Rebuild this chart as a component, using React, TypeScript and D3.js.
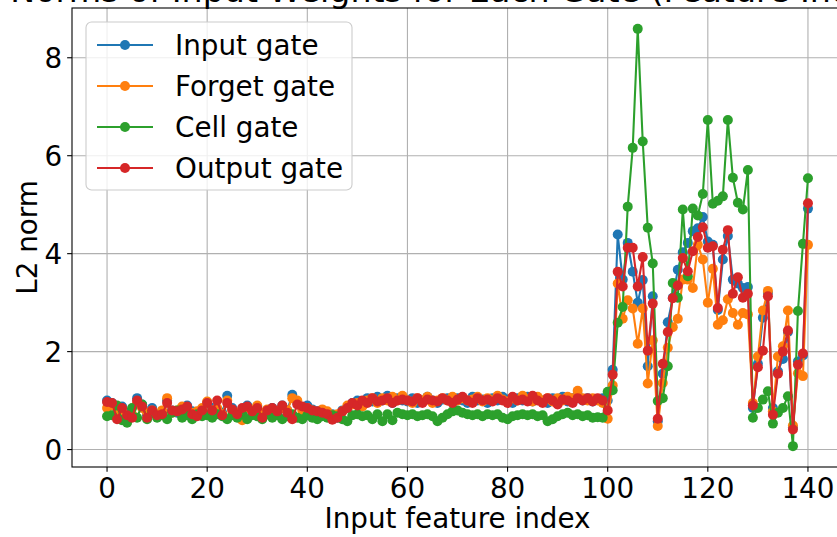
import React from "react";
import * as d3 from "d3";

const W = 837;
const H = 537;

const title = "Norms of Input Weights for Each Gate (Feature Index)";
const xLabel = "Input feature index";
const yLabel = "L2 norm";
const xTicks = [0, 20, 40, 60, 80, 100, 120, 140];
const yTicks = [0, 2, 4, 6, 8];
const seriesNames = ["Input gate", "Forget gate", "Cell gate", "Output gate"];
const seriesColors = ["#1f77b4", "#ff7f0e", "#2ca02c", "#d62728"];

const inputGate = [
  1.0, 0.95, 0.7, 0.88, 0.75, 0.68, 1.05, 0.92, 0.7, 0.85,
  0.72, 0.78, 1.0, 0.8, 0.75, 0.85, 0.9, 0.78, 0.7, 0.82,
  0.95, 0.85, 0.8, 0.75, 1.1, 0.85, 0.7, 0.8, 0.9, 0.75,
  0.88, 0.7, 0.8, 0.85, 0.75, 0.9, 0.8, 1.12, 0.95, 0.85,
  0.9, 0.82, 0.78, 0.8, 0.75, 0.72, 0.65, 0.8, 0.85, 0.95,
  1.0, 0.9, 1.05, 0.98, 1.08, 1.0, 1.1, 0.95, 1.05, 1.0,
  0.98, 1.05, 0.95, 1.0, 1.08, 1.0, 0.95, 1.02, 1.05, 0.98,
  1.05, 1.0, 0.95, 1.08, 1.0, 1.02, 0.95, 1.05, 1.0, 1.08,
  1.02, 0.95, 1.05, 1.0, 1.08, 0.98, 1.05, 1.0, 0.95, 1.05,
  1.0, 1.08, 0.98, 1.05, 1.12, 1.0, 1.05, 0.98, 1.02, 1.05,
  1.0, 1.63, 4.39, 3.47, 4.22, 3.63, 3.0, 3.46, 1.7, 3.13,
  0.58, 1.55, 2.6, 3.1, 3.67, 4.03, 4.22, 4.46, 4.52, 4.75,
  4.25, 4.18, 2.85, 3.88, 4.36, 3.47, 3.39, 3.3, 3.32, 0.85,
  1.75, 2.69, 3.2, 0.85, 1.6, 1.85, 2.4, 0.45, 1.8, 1.92, 4.92,
];

const forgetGate = [
  0.85, 0.9, 0.75, 0.8, 0.65, 0.72, 0.95, 0.85, 0.75, 0.8,
  0.7, 0.8, 1.05, 0.75, 0.8, 0.88, 0.82, 0.75, 0.78, 0.85,
  0.98, 0.8, 0.85, 0.72, 1.0, 0.8, 0.75, 0.6, 0.85, 0.8,
  0.9, 0.75, 0.82, 0.8, 0.78, 0.85, 0.8, 1.05, 1.0, 0.8,
  0.85, 0.8, 0.75, 0.82, 0.78, 0.7, 0.72, 0.78, 0.9, 0.92,
  0.95, 0.88, 1.0, 1.05, 0.95, 1.05, 1.0, 1.08, 1.0, 1.1,
  1.0, 0.95, 1.05, 1.0, 1.08, 0.95, 1.0, 1.05, 1.0, 1.08,
  1.0, 1.05, 1.0, 1.02, 1.08, 0.98, 1.05, 1.0, 1.1, 1.02,
  0.98, 1.05, 1.0, 1.1, 1.02, 0.98, 1.08, 1.0, 1.05, 0.98,
  1.05, 1.0, 1.08, 1.05, 1.2, 1.05, 1.0, 1.05, 1.0, 0.95,
  0.63, 1.31, 3.39, 2.67, 3.05, 2.88, 2.16, 2.88, 1.35, 2.23,
  0.48, 1.36, 2.08, 2.5, 2.67, 3.47, 3.47, 3.3, 4.18, 3.88,
  3.0, 3.69, 2.55, 2.64, 3.07, 2.79, 2.55, 2.79, 2.76, 0.95,
  1.9, 2.84, 3.24, 0.78, 1.9, 2.11, 2.84, 0.49, 1.56, 1.5, 4.18,
];

const cellGate = [
  0.68, 0.7, 0.9, 0.6, 0.55, 0.85, 0.65, 0.92, 0.62, 0.75,
  0.65, 0.7, 0.62, 0.75, 0.8, 0.65, 0.7, 0.62, 0.72, 0.68,
  0.7, 0.65, 0.72, 0.68, 0.62, 0.7, 0.65, 0.72, 0.62, 0.7,
  0.68, 0.62, 0.72, 0.65, 0.7, 0.62, 0.68, 0.72, 0.65, 0.62,
  0.7, 0.65, 0.62, 0.68, 0.65, 0.7, 0.68, 0.62, 0.58, 0.7,
  0.72, 0.68, 0.7, 0.62, 0.72, 0.58, 0.72, 0.6, 0.75, 0.72,
  0.7, 0.72, 0.68, 0.7, 0.72, 0.68, 0.58, 0.65, 0.72, 0.78,
  0.8, 0.75, 0.72, 0.7, 0.72, 0.68, 0.72, 0.7, 0.72, 0.65,
  0.62, 0.68, 0.7, 0.72, 0.7, 0.72, 0.68, 0.7, 0.58, 0.62,
  0.68, 0.72, 0.75, 0.7, 0.72, 0.68, 0.7, 0.65, 0.66, 0.65,
  1.18, 1.21, 2.59, 2.91, 4.96, 6.16, 8.59, 6.29, 4.53, 3.8,
  0.99, 1.05, 1.7, 3.4, 3.1, 4.9, 3.54, 4.92, 4.78, 5.22,
  6.73, 5.02, 5.08, 5.17, 6.73, 5.55, 5.04, 4.9, 5.71, 0.65,
  0.85, 1.02, 1.19, 0.53, 0.75, 0.85, 1.09, 0.07, 2.83, 4.2, 5.54,
];

const outputGate = [
  0.97, 0.95, 0.62, 0.85, 0.7, 0.65, 1.0, 0.88, 0.65, 0.8,
  0.7, 0.72, 0.95, 0.8, 0.78, 0.82, 0.88, 0.72, 0.68, 0.8,
  0.95, 0.8, 1.0, 0.7, 0.95, 0.82, 0.72, 0.85, 0.88, 0.78,
  0.85, 0.65, 0.8, 0.85, 0.78, 0.9, 0.75, 0.62, 0.92, 0.88,
  0.85, 0.8, 0.78, 0.75, 0.72, 0.61, 0.65, 0.78, 0.85, 0.95,
  0.9, 1.0, 0.95, 1.05, 0.98, 1.0, 1.05, 0.95, 1.0, 1.02,
  1.0, 0.98, 1.05, 0.95, 1.02, 1.0, 0.98, 1.05, 1.0, 0.95,
  1.02, 1.08, 1.0, 0.95, 1.05, 1.0, 1.02, 0.98, 1.05, 1.0,
  0.95, 1.08, 1.0, 1.02, 0.98, 1.1, 1.0, 0.95, 1.05, 1.0,
  0.92, 1.02, 1.0, 0.95, 1.05, 1.0, 1.05, 0.98, 1.05, 1.0,
  0.8, 1.53, 3.63, 3.33, 4.12, 4.12, 3.33, 3.93, 2.02, 2.98,
  0.63, 1.75, 2.4, 3.09, 3.35, 3.91, 3.64, 4.05, 4.34, 4.54,
  4.12, 4.15, 2.89, 4.08, 4.48, 3.18, 3.52, 3.1, 3.18, 0.9,
  1.68, 2.02, 3.13, 0.71, 1.55, 2.0, 2.43, 0.41, 1.73, 1.96, 5.03,
];

const allSeries = [inputGate, forgetGate, cellGate, outputGate];

export default function App() {
  const left = 72;
  const right = 843;
  const top = 8;
  const bottom = 467;
  const n = inputGate.length;
  const allVals = allSeries.flat();
  const yMin = d3.min(allVals) as number;
  const yMax = d3.max(allVals) as number;
  const yPad = (yMax - yMin) * 0.05;
  const xPad = (n - 1) * 0.05;

  const x = d3.scaleLinear().domain([-xPad, n - 1 + xPad]).range([left, right]);
  const y = d3.scaleLinear().domain([yMin - yPad, yMax + yPad]).range([bottom, top]);

  const line = d3
    .line<number>()
    .x((_, i) => x(i))
    .y((d) => y(d));

  const font = "DejaVu Sans, sans-serif";
  const fs = 27.8;
  const tickLen = 4.86;
  const gridColor = "#b0b0b0";
  const mr = 5;

  const legX = 86;
  const legY = 22;
  const legW = 266;
  const legH = 168;
  const rowY = (k: number) => 45 + 41 * k;

  return (
    <svg
      width={W}
      height={H}
      style={{ position: "absolute", left: 0, top: 0, background: "#fff" }}
      fontFamily={font}
    >
      <rect x={0} y={0} width={W} height={H} fill="#fff" />
      {xTicks.map((t) => (
        <line key={"gx" + t} x1={x(t)} x2={x(t)} y1={top} y2={bottom} stroke={gridColor} strokeWidth={1.1} />
      ))}
      {yTicks.map((t) => (
        <line key={"gy" + t} x1={left} x2={right} y1={y(t)} y2={y(t)} stroke={gridColor} strokeWidth={1.1} />
      ))}
      {allSeries.map((s, k) => (
        <g key={"s" + k}>
          <path d={line(s) || ""} fill="none" stroke={seriesColors[k]} strokeWidth={2.08} strokeLinejoin="round" />
          {s.map((v, i) => (
            <circle key={i} cx={x(i)} cy={y(v)} r={mr} fill={seriesColors[k]} />
          ))}
        </g>
      ))}
      <rect x={left} y={top} width={right - left} height={bottom - top} fill="none" stroke="#000" strokeWidth={1.1} />
      {xTicks.map((t) => (
        <g key={"xt" + t}>
          <line x1={x(t)} x2={x(t)} y1={bottom} y2={bottom + tickLen} stroke="#000" strokeWidth={1.1} />
          <text x={x(t)} y={498} fontSize={fs} textAnchor="middle" fill="#000">
            {t}
          </text>
        </g>
      ))}
      {yTicks.map((t) => (
        <g key={"yt" + t}>
          <line x1={left - tickLen} x2={left} y1={y(t)} y2={y(t)} stroke="#000" strokeWidth={1.1} />
          <text x={left - tickLen - 4.86} y={y(t) + 10} fontSize={fs} textAnchor="end" fill="#000">
            {t}
          </text>
        </g>
      ))}
      <text x={(left + right) / 2} y={528} fontSize={fs} textAnchor="middle" fill="#000">
        {xLabel}
      </text>
      <text
        transform={`translate(37, ${(top + bottom) / 2}) rotate(-90)`}
        fontSize={fs}
        textAnchor="middle"
        fill="#000"
      >
        {yLabel}
      </text>
      <text x={(left + right) / 2} y={1.5} fontSize={33.3} textAnchor="middle" fill="#000">
        {title}
      </text>
      <rect x={legX} y={legY} width={legW} height={legH} rx={5.6} ry={5.6} fill="#fff" fillOpacity={0.8} stroke="#cccccc" strokeWidth={1.1} />
      {seriesNames.map((name, k) => (
        <g key={"lg" + k}>
          <line x1={97} x2={153} y1={rowY(k)} y2={rowY(k)} stroke={seriesColors[k]} strokeWidth={2.08} />
          <circle cx={125} cy={rowY(k)} r={mr} fill={seriesColors[k]} />
          <text x={175} y={rowY(k) + 10} fontSize={fs} fill="#000">
            {name}
          </text>
        </g>
      ))}
    </svg>
  );
}
